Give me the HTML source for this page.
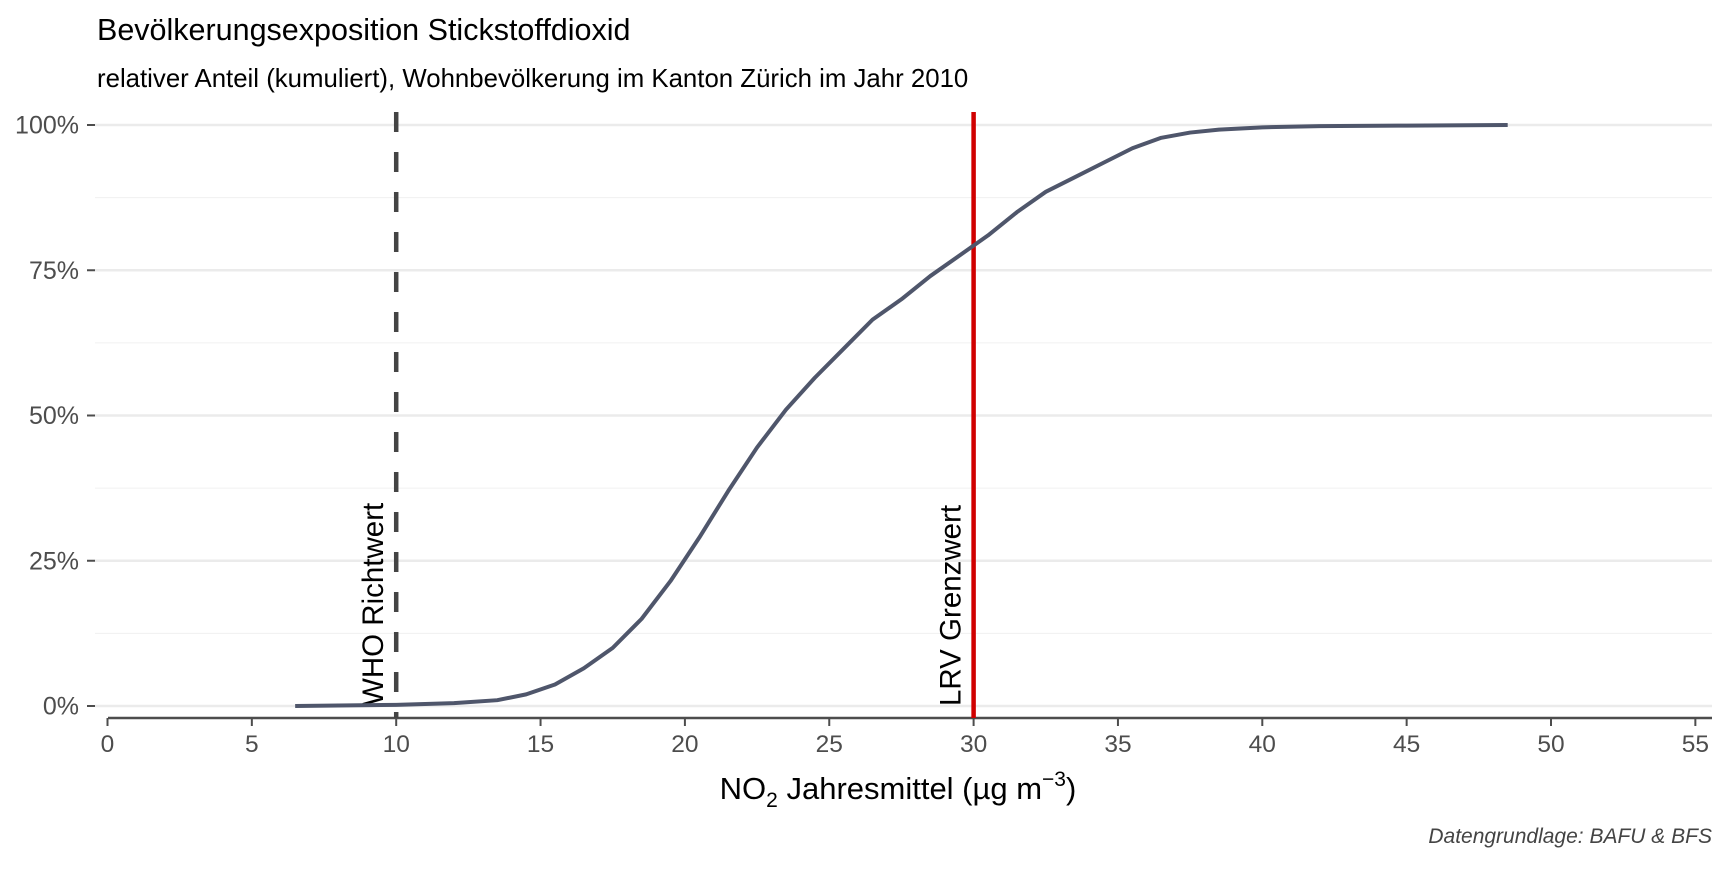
<!DOCTYPE html>
<html><head><meta charset="utf-8">
<style>
body{margin:0;background:#fff;}
svg text{font-family:"Liberation Sans",Arial,sans-serif;}
</style></head>
<body>
<svg id="chart" width="1728" height="864" xmlns="http://www.w3.org/2000/svg">
<rect width="1728" height="864" fill="#fff"/>
<text x="97" y="40" font-size="30.5" fill="#000">Bevölkerungsexposition Stickstoffdioxid</text>
<text x="97" y="87" font-size="25.8" fill="#000">relativer Anteil (kumuliert), Wohnbevölkerung im Kanton Zürich im Jahr 2010</text>
<g id="grid"></g>
<g id="yticks"></g>
<g id="xticks"></g>
<g id="marks"></g>
<text x="898" y="799" font-size="31" text-anchor="middle" fill="#000">NO<tspan font-size="21" dy="8">2</tspan><tspan dy="-8"> Jahresmittel (µg m</tspan><tspan font-size="21" dy="-13">−3</tspan><tspan dy="13">)</tspan></text>
<text x="1712" y="843" font-size="21" font-style="italic" text-anchor="end" fill="#444">Datengrundlage: BAFU &amp; BFS</text>
</svg>
<script>
const xs=[6.5,10,12,13.5,14.5,15.5,16.5,17.5,18.5,19.5,20.5,21.5,22.5,23.5,24.5,25.5,26.5,27.5,28.5,29.5,30.5,31.5,32.5,33.5,34.5,35.5,36.5,37.5,38.5,40,42,45,48.5];
const ys=[0,0.2,0.5,1,2,3.7,6.5,10,15,21.5,29,37,44.5,51,56.5,61.5,66.5,70,74,77.5,81,85,88.5,91,93.5,96,97.8,98.7,99.2,99.6,99.8,99.9,100];
const xTicks=[0,5,10,15,20,25,30,35,40,45,50,55];
const yTicks=[0,25,50,75,100];
const whoValue=10, lrvValue=30;
const X=v=>107.5+v*28.87, Y=v=>706-v*5.81;
const NS="http://www.w3.org/2000/svg";
function mk(parent,tag,attrs,text){const e=document.createElementNS(NS,tag);for(const k in attrs)e.setAttribute(k,attrs[k]);if(text!=null)e.textContent=text;document.getElementById(parent).appendChild(e);return e;}
for(let v=0;v<=100;v+=12.5){
  const g=mk('grid','line',{x1:95,x2:1712,y1:Y(v),y2:Y(v),stroke:v%25===0?'#ebebeb':'#f0f0f0','stroke-width':v%25===0?2.5:1});
  
  
}
yTicks.forEach(v=>{
  const t=mk('yticks','text',{x:79,y:Y(v)+8.5,'font-size':25,'text-anchor':'end',fill:'#4d4d4d'},v+'%');
  
  
  mk('yticks','line',{x1:87,x2:95,y1:Y(v),y2:Y(v),stroke:'#4d4d4d','stroke-width':2});
});
const ax=mk('xticks','line',{x1:108,x2:1712,y1:718,y2:718,stroke:'#4d4d4d','stroke-width':2.5});


xTicks.forEach(v=>{
  mk('xticks','line',{x1:X(v),x2:X(v),y1:718,y2:726,stroke:'#4d4d4d','stroke-width':2});
  const t=mk('xticks','text',{x:X(v),y:752,'font-size':24.5,'text-anchor':'middle',fill:'#4d4d4d'},v);
  
  
});
const who=mk('marks','line',{x1:X(whoValue),x2:X(whoValue),y1:112,y2:718,stroke:'#444','stroke-width':4.5,'stroke-dasharray':'20,20'});


const wt=mk('marks','text',{transform:`translate(${X(whoValue)-13},706) rotate(-90)`,'font-size':29.5,fill:'#000'},'WHO Richtwert');


const lrv=mk('marks','line',{x1:X(lrvValue),x2:X(lrvValue),y1:112,y2:718,stroke:'#d00000','stroke-width':4.5});


const lt=mk('marks','text',{transform:`translate(${X(lrvValue)-13},706) rotate(-90)`,'font-size':29.5,fill:'#000'},'LRV Grenzwert');


const p=mk('marks','polyline',{points:xs.map((x,i)=>X(x)+','+Y(ys[i])).join(' '),fill:'none',stroke:'#4f566b','stroke-width':4,'stroke-linejoin':'round'});


</script>
</body></html>
